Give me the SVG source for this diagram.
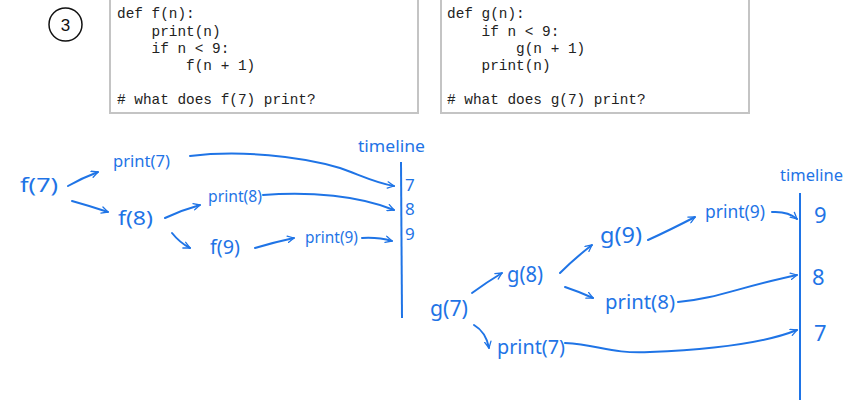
<svg xmlns="http://www.w3.org/2000/svg" width="853" height="400" viewBox="0 0 853 400">
<style>
.box{fill:#fff;stroke:#c4c4c4;stroke-width:2}
.code{font-family:"Liberation Mono",monospace;font-size:14.4px;fill:#222}
.hw{font-family:"Noto Sans","DejaVu Sans",sans-serif;fill:#1f74e6}
.ln{fill:none;stroke:#1f74e6;stroke-width:2;stroke-linecap:round;stroke-linejoin:round}
.tl{fill:none;stroke:#1f74e6;stroke-width:2}
</style>
<defs>
<marker id="ah" viewBox="0 0 10 10" refX="9" refY="5" markerWidth="8" markerHeight="8" orient="auto" markerUnits="userSpaceOnUse">
<path d="M1,1 L9,5 L1,9" fill="none" stroke="#1f74e6" stroke-width="1.6" stroke-linecap="round" stroke-linejoin="round"/>
</marker>
</defs>
<rect width="853" height="400" fill="#fff"/>
<g id="num">
<circle cx="65.5" cy="24.5" r="16.5" fill="none" stroke="#111" stroke-width="1.5"/>
<text x="65.5" y="30.5" text-anchor="middle" font-family="Liberation Sans,Arial,sans-serif" font-size="17" fill="#111">3</text>
</g>
<g id="codeF">
<rect class="box" x="110" y="-3" width="308" height="116"/>
<text class="code" x="117" y="18">def f(n):</text>
<text class="code" x="117" y="36" xml:space="preserve">    print(n)</text>
<text class="code" x="117" y="53" xml:space="preserve">    if n &lt; 9:</text>
<text class="code" x="117" y="70" xml:space="preserve">        f(n + 1)</text>
<text class="code" x="117" y="104"># what does f(7) print?</text>
</g>
<g id="codeG">
<rect class="box" x="441" y="-3" width="308" height="116"/>
<text class="code" x="447" y="18">def g(n):</text>
<text class="code" x="447" y="36" xml:space="preserve">    if n &lt; 9:</text>
<text class="code" x="447" y="53" xml:space="preserve">        g(n + 1)</text>
<text class="code" x="447" y="70" xml:space="preserve">    print(n)</text>
<text class="code" x="447" y="104"># what does g(7) print?</text>
</g>

<g id="connectors">
<path class="ln" d="M68,186 Q82,178 98,172" marker-end="url(#ah)"/>
<path class="ln" d="M72,201 Q90,206 108,212" marker-end="url(#ah)"/>
<path class="ln" d="M190,156 C240,150 300,156 340,168 C360,175 375,183 394,186" marker-end="url(#ah)"/>
<path class="ln" d="M165,218 Q182,210 200,205" marker-end="url(#ah)"/>
<path class="ln" d="M263,195 C310,191 360,196 394,210" marker-end="url(#ah)"/>
<path class="ln" d="M172,233 Q180,243 190,248" marker-end="url(#ah)"/>
<path class="ln" d="M255,248 Q275,242 294,238" marker-end="url(#ah)"/>
<path class="ln" d="M362,238 Q378,237 392,241" marker-end="url(#ah)"/>
<path class="tl" d="M401,162 L402,318"/>

<path class="ln" d="M472,293 Q487,282 502,273" marker-end="url(#ah)"/>
<path class="ln" d="M560,273 Q575,258 592,245" marker-end="url(#ah)"/>
<path class="ln" d="M648,240 Q670,230 695,217" marker-end="url(#ah)"/>
<path class="ln" d="M772,212 Q788,211 797,219" marker-end="url(#ah)"/>
<path class="ln" d="M565,287 Q580,292 593,298" marker-end="url(#ah)"/>
<path class="ln" d="M678,302 C715,299 740,287 797,275" marker-end="url(#ah)"/>
<path class="ln" d="M474,325 Q486,332 489,348" marker-end="url(#ah)"/>
<path class="ln" d="M565,343 C600,345 610,354 650,352 C700,350 760,345 797,330" marker-end="url(#ah)"/>
<path class="tl" d="M800,193 L800,400"/>
</g>

<g id="f7"><text class="hw" x="20" y="192" font-size="20" textLength="38" lengthAdjust="spacingAndGlyphs">f(7)</text></g>
<g id="print7a"><text class="hw" x="113" y="167" font-size="17" textLength="57" lengthAdjust="spacingAndGlyphs">print(7)</text></g>
<g id="f8"><text class="hw" x="118" y="225" font-size="20" textLength="35" lengthAdjust="spacingAndGlyphs">f(8)</text></g>
<g id="print8a"><text class="hw" x="208" y="202" font-size="16" textLength="54" lengthAdjust="spacingAndGlyphs">print(8)</text></g>
<g id="f9"><text class="hw" x="210" y="254" font-size="19" textLength="30" lengthAdjust="spacingAndGlyphs">f(9)</text></g>
<g id="print9a"><text class="hw" x="305" y="243" font-size="16" textLength="53" lengthAdjust="spacingAndGlyphs">print(9)</text></g>
<g id="timelineF">
<text class="hw" x="358" y="152" font-size="16" textLength="67" lengthAdjust="spacingAndGlyphs">timeline</text>
<text class="hw" x="405" y="191" font-size="17">7</text>
<text class="hw" x="405" y="215" font-size="17">8</text>
<text class="hw" x="405" y="240" font-size="17">9</text>
</g>

<g id="g7"><text class="hw" x="430" y="316" font-size="21" textLength="38" lengthAdjust="spacingAndGlyphs">g(7)</text></g>
<g id="g8"><text class="hw" x="507" y="282" font-size="21" textLength="36" lengthAdjust="spacingAndGlyphs">g(8)</text></g>
<g id="g9"><text class="hw" x="600" y="243" font-size="21" textLength="42" lengthAdjust="spacingAndGlyphs">g(9)</text></g>
<g id="print9b"><text class="hw" x="705" y="218" font-size="18" textLength="60" lengthAdjust="spacingAndGlyphs">print(9)</text></g>
<g id="print8b"><text class="hw" x="605" y="309" font-size="19" textLength="70" lengthAdjust="spacingAndGlyphs">print(8)</text></g>
<g id="print7b"><text class="hw" x="497" y="354" font-size="19" textLength="68" lengthAdjust="spacingAndGlyphs">print(7)</text></g>
<g id="timelineG">
<text class="hw" x="780" y="181" font-size="17" textLength="63" lengthAdjust="spacingAndGlyphs">timeline</text>
<text class="hw" x="814" y="223" font-size="22">9</text>
<text class="hw" x="812" y="285" font-size="22">8</text>
<text class="hw" x="814" y="341" font-size="22">7</text>
</g>
</svg>
